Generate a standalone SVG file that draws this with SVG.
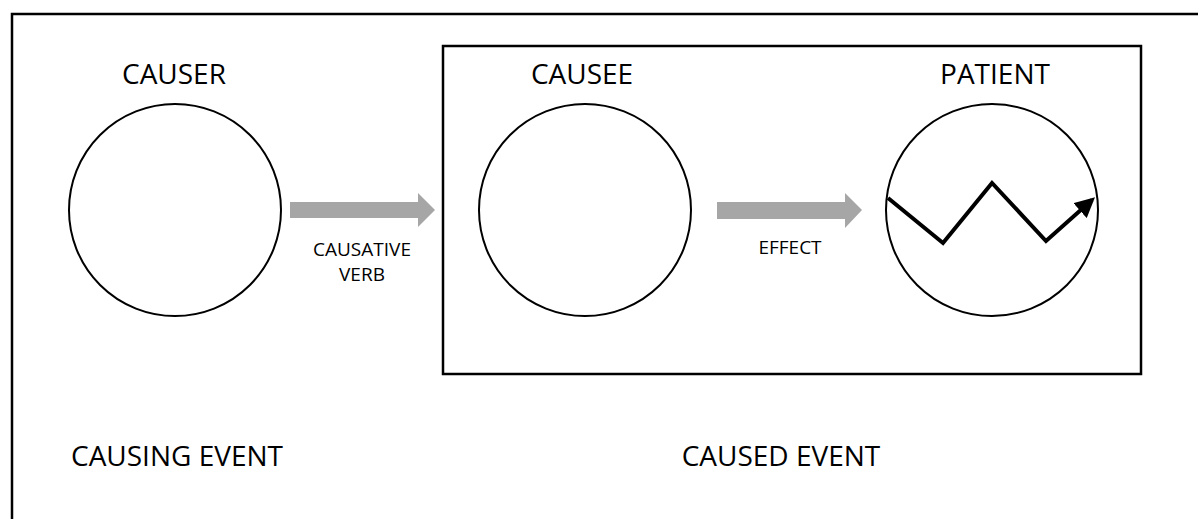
<svg xmlns="http://www.w3.org/2000/svg" width="1198" height="519" viewBox="0 0 1198 519">
<defs>
<style>
.frame{fill:none;stroke:#000;stroke-width:2.5}
.circ{fill:#fff;stroke:#000;stroke-width:2}
.big{font-family:"Open Sans","Liberation Sans",sans-serif;font-size:28px;fill:#000;text-anchor:middle}
.small{font-family:"Open Sans","Liberation Sans",sans-serif;font-size:19px;fill:#000;text-anchor:middle}
.garrow{fill:#a6a6a6}
</style>
<marker id="ah" viewBox="0 0 10 10" refX="8" refY="5" markerWidth="5" markerHeight="5" orient="auto" markerUnits="strokeWidth">
<path d="M0,0 L10,5 L0,10 z" fill="#000"/>
</marker>
</defs>
<rect id="outer-frame" class="frame" x="12" y="14" width="1200" height="520"/>
<g id="caused-event-box">
<rect class="frame" x="443" y="46" width="698" height="328"/>
</g>
<g id="causer">
<circle class="circ" cx="175" cy="210" r="106"/>
<text class="big" x="174" y="84">CAUSER</text>
</g>
<g id="causee">
<circle class="circ" cx="585" cy="210" r="106"/>
<text class="big" x="582" y="84">CAUSEE</text>
</g>
<g id="patient">
<circle class="circ" cx="992" cy="210" r="106"/>
<text class="big" x="995" y="84">PATIENT</text>
<polyline points="888,198 943,243 992,183 1046,241 1092,200" fill="none" stroke="#000" stroke-width="4" stroke-linejoin="miter" marker-end="url(#ah)"/>
</g>
<g id="connectors">
<polygon class="garrow" points="290,202 418,202 418,193 435,210 418,227 418,218 290,218"/>
<polygon class="garrow" points="717,202 845,202 845,193 862,210 845,228 845,219 717,219"/>
<text class="small" x="362" y="256">CAUSATIVE</text>
<text class="small" x="362" y="281">VERB</text>
<text class="small" x="790" y="254">EFFECT</text>
</g>
<g id="labels">
<text class="big" x="177" y="466">CAUSING EVENT</text>
<text class="big" x="781" y="466">CAUSED EVENT</text>
</g>
</svg>
